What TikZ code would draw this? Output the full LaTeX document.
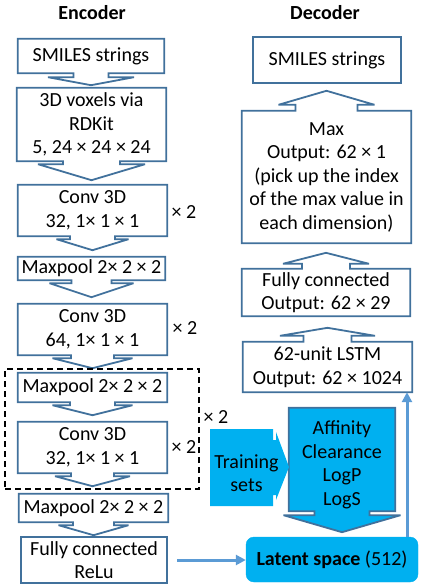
\documentclass[tikz,border=0pt]{standalone}
\usepackage{fontspec}
\setmainfont{Carlito}
\usetikzlibrary{calc,arrows.meta,backgrounds}
\definecolor{boxblue}{HTML}{41719C}
\definecolor{cyanfill}{HTML}{00B0F0}
\definecolor{linkblue}{HTML}{5B9BD5}
% #1 node, #2 stem half width, #3 head half width, #4 stem length, #5 tip offset, #6 style
\newcommand\downcall[6]{%
  \draw[#6] (#1.north west) -- (#1.north east) -- (#1.south east)
   -- ($(#1.south)+(#2,0)$) -- ($(#1.south)+(#2,#4)$) -- ($(#1.south)+(#3,#4)$)
   -- ($(#1.south)+(0,#5)$) -- ($(#1.south)+(-#3,#4)$) -- ($(#1.south)+(-#2,#4)$)
   -- ($(#1.south)+(-#2,0)$) -- (#1.south west) -- cycle;}
\newcommand\upcall[6]{%
  \draw[#6] (#1.south west) -- (#1.south east) -- (#1.north east)
   -- ($(#1.north)+(#2,0)$) -- ($(#1.north)+(#2,-#4)$) -- ($(#1.north)+(#3,-#4)$)
   -- ($(#1.north)+(0,-#5)$) -- ($(#1.north)+(-#3,-#4)$) -- ($(#1.north)+(-#2,-#4)$)
   -- ($(#1.north)+(-#2,0)$) -- (#1.north west) -- cycle;}
\tikzset{
  txt/.style={inner sep=0pt, align=center, font=\fontsize{20}{23.5}\selectfont},
  bx/.style={txt},
  shp/.style={draw=boxblue, line width=1.8pt, fill=white, miter limit=4},
  shpc/.style={draw=boxblue, line width=1.8pt, fill=cyanfill, miter limit=4},
  title/.style={font=\fontsize{20}{23.5}\selectfont\bfseries, anchor=base, inner sep=0pt},
  times/.style={txt},
  conn/.style={draw=linkblue, line width=3pt, -{Triangle[length=10pt,width=10pt]}},
}
\begin{document}
\begin{tikzpicture}[x=1pt,y=-1pt]
\useasboundingbox (0,0) rectangle (424,586);
% titles
\node[title] (enc) at (92,20) {Encoder};
\node[title] (dec) at (325,20) {Decoder};
% encoder boxes
\node[bx, minimum width=146pt, minimum height=34pt] (B1) at (91,56) {SMILES strings};
\node[bx, minimum width=149pt, minimum height=73pt] (B2) at (91.5,124.5) {3D voxels via\\RDKit\\5, 24 × 24 × 24};
\node[bx, minimum width=149pt, minimum height=51pt] (B3) at (92.5,210.5) {Conv 3D\\32, 1× 1 × 1};
\node[bx, minimum width=147pt, minimum height=23pt] (B4) at (91.5,268.5) {Maxpool 2× 2 × 2};
\node[bx, minimum width=149pt, minimum height=51pt] (B5) at (92.5,329.5) {Conv 3D\\64, 1× 1 × 1};
\node[bx, minimum width=149pt, minimum height=29pt] (B6) at (92.5,387.5) {Maxpool 2× 2 × 2};
\node[bx, minimum width=149pt, minimum height=51pt] (B7) at (92.5,447.5) {Conv 3D\\32, 1× 1 × 1};
\node[bx, minimum width=149pt, minimum height=28pt] (B8) at (93.5,508) {Maxpool 2× 2 × 2};
\node[bx, minimum width=146pt, minimum height=46pt] (B9) at (94,560) {Fully connected\\ReLu};
% decoder boxes
\node[bx, minimum width=148pt, minimum height=46pt] (D1) at (327,60) {SMILES strings};
\node[bx, minimum width=169pt, minimum height=132pt] (D2) at (326.5,177) {Max\\Output: 62 × 1\\(pick up the index\\of the max value in\\each dimension)};
\node[bx, minimum width=168pt, minimum height=47pt] (D3) at (326,292.5) {Fully connected\\Output: 62 × 29};
\node[bx, minimum width=169pt, minimum height=50pt] (D4) at (327.5,367) {62-unit LSTM\\Output: 62 × 1024};
% property box
\node[bx, minimum width=106pt, minimum height=103pt] (aff) at (342,459.5) {};
\node[txt] (afftext) at (342,465) {Affinity\\Clearance\\LogP\\LogS};
% latent
\node[txt, fill=cyanfill, draw=cyanfill, rounded corners=8pt, minimum width=172pt, minimum height=45pt] (lat) at (332,559.5) {\textbf{Latent space} (512)};
% repeat labels
\node[times] (r3) at (184,212) {× 2};
\node[times] (r5) at (185,328) {× 2};
\node[times] (r7) at (184,447) {× 2};
\node[times] (rg) at (216,417) {× 2};
% group frame
\node[draw=black, dash pattern=on 6pt off 4pt, line width=1.5pt, minimum width=194pt, minimum height=120pt, inner sep=0pt] (grp) at (102,429) {};
% shapes behind texts
\begin{scope}[on background layer]
\downcall{B1}{17.5}{43}{4}{12}{shp}
\downcall{B2}{28.5}{53.5}{3}{19}{shp}
\downcall{B3}{22.5}{36}{3}{14}{shp}
\downcall{B4}{20}{42}{3}{17}{shp}
\downcall{B5}{21.5}{40}{3}{13}{shp}
\downcall{B6}{22.5}{40}{3}{13}{shp}
\downcall{B7}{21.5}{37.5}{3}{13}{shp}
\downcall{B8}{20.5}{35}{3}{13}{shp}
\draw[shp] (B9.north west) rectangle (B9.south east);
\draw[shp] (D1.north west) rectangle (D1.south east);
\upcall{D2}{31}{48}{6}{20}{shp}
\upcall{D3}{24}{43}{5}{16}{shp}
\upcall{D4}{24}{47.5}{6}{14}{shp}
\downcall{aff}{27.5}{58.5}{4}{21}{shpc}
\fill[cyanfill] (210,429) -- (273,429) -- (273,440) -- (276,440) -- (276,432)
  -- (289,467) -- (276,500) -- (276,495) -- (273,495) -- (273,506) -- (210,506) -- cycle;
\end{scope}
\node[txt] (train) at (246.5,473) {Training\\sets};
% connectors
\draw[conn, shorten <=10pt] (B9.east) -- (B9.east -| lat.west);
\coordinate (vx) at (407,0);
\draw[conn] (lat.north -| vx) -- (D4.south -| vx);
\end{tikzpicture}
\end{document}
